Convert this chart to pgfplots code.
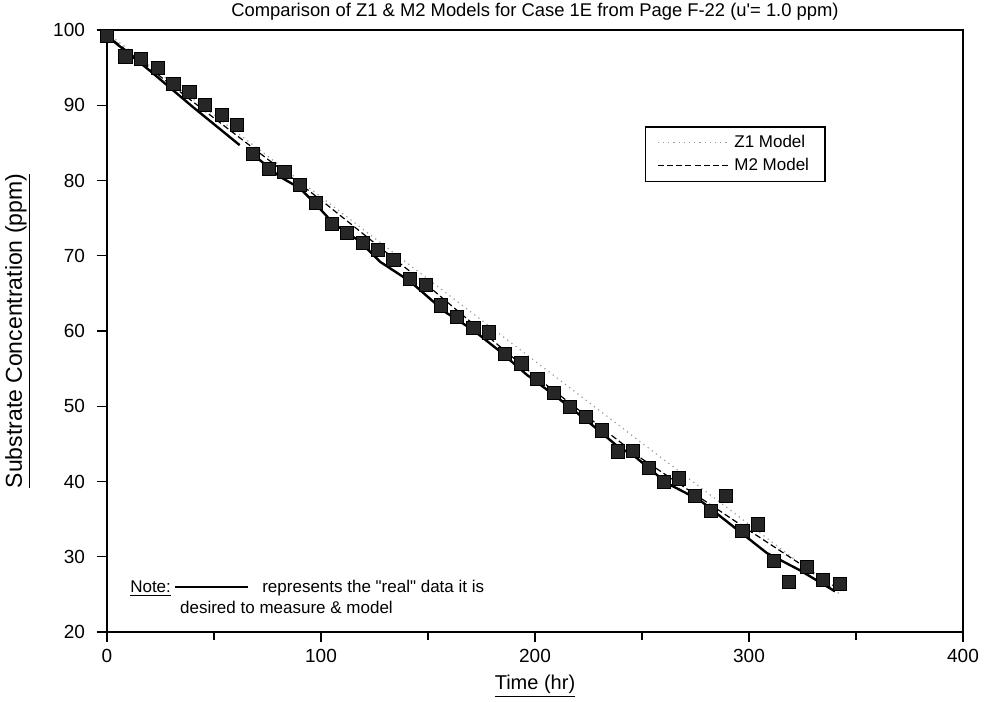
\documentclass[border=0pt]{standalone}
\usepackage{pgfplots}
\pgfplotsset{compat=1.18}
\usepackage{fontspec}
\setmainfont{Liberation Sans}[Ligatures=TeXOff]
\begin{document}
\begin{tikzpicture}
\begin{axis}[
  scale only axis, width=428pt, height=301pt,
  xmin=0, xmax=400, ymin=20, ymax=100,
  xtick={0,100,200,300,400}, minor xtick={50,150,250,350},
  ytick={20,30,40,50,60,70,80,90,100},
  tick pos=left, tick align=outside,
  major tick length=5pt, minor tick length=4pt,
  /pgf/number format/assume math mode=true,
  ticklabel style={font=\fontsize{9.5}{11}\selectfont},
  yticklabel style={xshift=-2.5pt},
  axis line style={line width=0.7pt},
  every tick/.style={black, line width=0.6pt},
  title={Comparison of Z1 \& M2 Models for Case 1E from Page F-22 (u'= 1.0 ppm)},
  title style={at={(rel axis cs:0.5,1)}, anchor=center, yshift=3pt, font=\fontsize{9.2}{11}\selectfont},
  xlabel={\underline{Time (hr)}},
  xlabel style={at={(rel axis cs:0.5,0)}, anchor=center, yshift=-27pt, font=\fontsize{10}{12}\selectfont},
  ylabel={\underline{Substrate Concentration (ppm)}},
  ylabel style={at={(rel axis cs:0,0.5)}, anchor=center, yshift=44.5pt, font=\fontsize{11.5}{13}\selectfont},
  unbounded coords=jump,
  clip=false,
  legend style={at={(0.628,0.84)}, anchor=north west, draw=black, line width=0.6pt,
    font=\fontsize{8.5}{10}\selectfont, inner xsep=6pt, inner ysep=2pt, row sep=0pt},
  legend cell align=left,
  legend image code/.code={\draw[#1] (0pt,0pt) -- (36pt,0pt);},
]
% "real" data (solid)
\addplot[black, line width=1.2pt, forget plot] coordinates {
(0,99.2) (20,94.6) (40,89.8) (62,84.7) (64,nan) (66.8,83.8) (80.8,80.5) (90,79.0)
(96.4,77.2) (105.8,74.3) (118.2,71.9) (127.6,69.2) (141.6,66.6) (152.5,63.9)
(158.7,62.4) (171.2,60.1) (183.6,57.3) (196.1,54.2) (208.9,51.5) (223.8,48.2)
(238.9,44.6) (245.9,43.5) (261.5,39.8) (277.1,37.5) (292.7,34.0) (308.3,30.5)
(323.8,28.2) (340.2,25.4)
};
% Z1 model (dotted)
\addplot[black!40, dotted, line width=0.6pt] coordinates {
(0,99.6) (100,77.8) (200,56.0) (250,45.1) (300,34.3) (343,24.9)
};
\addlegendentry{Z1 Model}
% M2 model (dashed)
\addplot[black, line width=0.6pt, dash pattern=on 3pt off 1.6pt] coordinates {
(0,99.3) (50,88.3) (100,77.4) (150,66.0) (200,54.0) (250,43.0) (300,33.5) (343,25.5)
};
\addlegendentry{M2 Model}
% measured points
\addplot[only marks, mark=square*, mark size=3.3pt, mark options={fill=black!85, draw=black, line width=0.4pt}, forget plot] coordinates {
(0,99.2) (8.6,96.5) (15.9,96.2) (23.7,95.0) (31.0,92.8) (38.5,91.8) (45.9,90.0)
(53.6,88.7) (60.6,87.4) (68.1,83.5) (75.7,81.5) (82.9,81.1) (90.2,79.4) (97.7,77.0)
(105.0,74.2) (112.0,73.0) (119.5,71.7) (126.5,70.8) (133.8,69.4) (141.6,66.9)
(149.1,66.1) (155.9,63.4) (163.4,61.9) (171.2,60.4) (178.3,59.8) (186.1,57.0)
(193.6,55.7) (201.1,53.6) (208.9,51.8) (216.4,49.9) (223.8,48.6) (231.2,46.8)
(238.7,44.0) (245.7,44.1) (253.3,41.8) (260.4,39.9) (267.4,40.4) (274.7,38.1)
(282.2,36.1) (289.3,38.1) (296.9,33.4) (304.3,34.3) (311.7,29.4) (318.8,26.7)
(326.9,28.6) (334.7,26.9) (342.5,26.4)
};
% note
\node[anchor=west, font=\fontsize{8.5}{10}\selectfont, inner sep=0pt] at (axis cs:10.7,25.8) {\underline{Note:}};
\draw[black, line width=1.2pt] (axis cs:31.8,26.0) -- (axis cs:65.9,26.0);
\node[anchor=west, font=\fontsize{8.5}{10}\selectfont, inner sep=0pt] at (axis cs:72.4,25.8) {represents the "real" data it is};
\node[anchor=west, font=\fontsize{8.5}{10}\selectfont, inner sep=0pt] at (axis cs:34,23.3) {desired to measure \& model};
\end{axis}
\pgfresetboundingbox
\path ([shift={(-53.5pt,-35pt)}]current axis.south west) rectangle ([shift={(10.5pt,15pt)}]current axis.north east);
\end{tikzpicture}
\end{document}
